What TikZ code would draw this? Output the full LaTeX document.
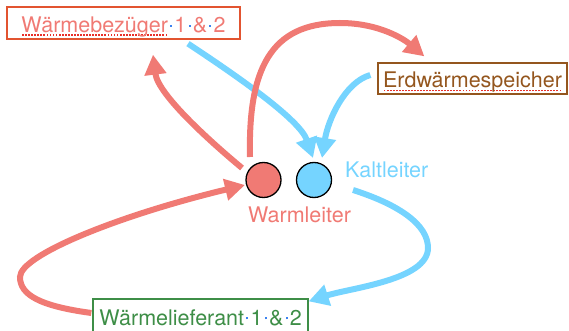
\documentclass[tikz,border=0pt]{standalone}
\usepackage{fontspec}
\setmainfont{TeX Gyre Heros}
\usetikzlibrary{arrows.meta}
\definecolor{salmon}{RGB}{240,122,116}
\definecolor{skyblue}{RGB}{117,212,255}
\definecolor{boxred}{RGB}{226,84,48}
\definecolor{boxgreen}{RGB}{62,142,71}
\definecolor{boxbrown}{RGB}{148,86,30}
\definecolor{dotblue}{RGB}{59,130,240}
\definecolor{spellred}{RGB}{232,48,42}
\newsavebox\spbox
\newcommand\spellmark[1]{\sbox\spbox{#1}\rlap{\textcolor{spellred}{\hbox to\wd\spbox{\xleaders\hbox to 3pt{\hss\rule[-3.4pt]{1.8pt}{1.8pt}\hss}\hfill}}}\usebox\spbox}
\newcommand\vsp{\hbox to 0.3em{\hss\textcolor{dotblue}{\rule[0.26em]{2pt}{2pt}}\hss}}
\tikzset{
  labelbox/.style={draw, line width=1.3pt, inner xsep=0pt, inner ysep=0pt, font=\fontsize{21.5}{24}\selectfont},
  ball/.style={circle, draw=black, line width=1.3pt, minimum size=35pt, inner sep=0pt},
  ballabel/.style={anchor=base west, inner sep=0pt, font=\fontsize{21.5}{24}\selectfont},
  flow/.style={line width=6pt, -{Triangle[width=21pt,length=20pt]}},
  redflow/.style={flow, draw=salmon},
  blueflow/.style={flow, draw=skyblue}
}
\begin{document}
\begin{tikzpicture}[x=1pt,y=-1pt]
\useasboundingbox (0,0) rectangle (569,331);
\clip (0,0) rectangle (569,331);
% boxes
\node[labelbox, draw=boxred, text=salmon, minimum width=233pt, text height=25.3pt, text depth=6.7pt] (b1) at (123.5,23)
  {\spellmark{Wärmebezüger}\vsp 1\vsp\&\vsp 2};
\node[labelbox, draw=boxbrown, text=boxbrown, minimum width=189pt, text height=25pt, text depth=6pt] (b2) at (472.5,78.5)
  {\spellmark{Erdwärmespeicher}};
\node[labelbox, draw=boxgreen, text=boxgreen, minimum width=215pt, text height=26pt, text depth=8pt] (b3) at (200.5,316)
  {Wärmelieferant\vsp 1\vsp\&\vsp 2};
% conductors
\node[ball, fill=salmon] (red) at (263.5,180) {};
\node[ball, fill=skyblue] (blue) at (314,180) {};
\node[ballabel, text=skyblue] (kl) at (345,177) {Kaltleiter};
\node[ballabel, text=salmon] (wl) at (248,222) {Warmleiter};
% blue flows
\draw[blueflow] ([shift={(64.5,4)}]b1.south) .. controls (240,78) and (300,120) .. ([shift={(-1,-22)}]blue.center);
\draw[blueflow] ([shift={(-7,-3.5)}]b2.west) .. controls (345,82) and (328,120) .. ([shift={(8,-22)}]blue.center);
\draw[blueflow] ([shift={(39,10)}]blue.center) .. controls (400,205) and (428,225) .. (428,248)
  .. controls (428,280) and (350,288) .. ([shift={(0,3)}]b3.north east);
% red flows
\draw[redflow] ([shift={(-21.5,-12)}]red.center) .. controls (212,143) and (158,95) .. ([shift={(29.5,15)}]b1.south);
\draw[redflow] ([shift={(-13.5,-23)}]red.center) .. controls (248,70) and (270,23) .. (340,23)
  .. controls (380,23) and (405,40) .. ([shift={(47,-6)}]b2.north west);
\draw[redflow] ([shift={(-1,-3)}]b3.west) .. controls (40,306) and (20,295) .. (20,277)
  .. controls (20,255) and (120,215) .. ([shift={(-18.5,5)}]red.center);
\end{tikzpicture}
\end{document}
